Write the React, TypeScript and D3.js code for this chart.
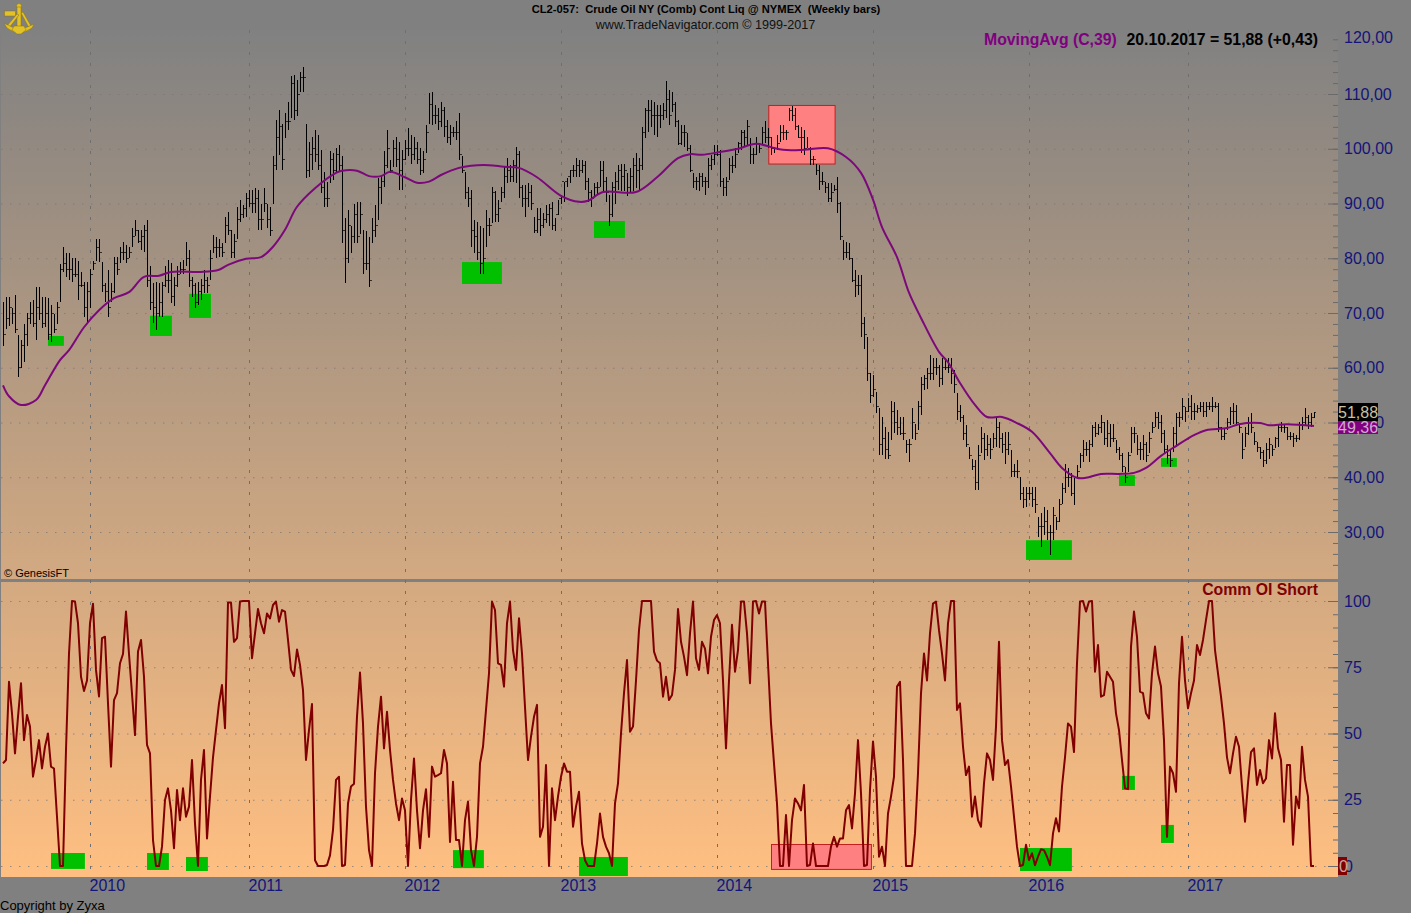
import React, { useEffect, useRef } from 'react';
import * as d3 from 'd3';

// Crude Oil weekly bars, one entry per week from mid 2009 to 20.10.2017
const highs = [
  72, 73, 73, 71, 73.3, 66, 65, 68, 70, 72,
  72.4, 74.8, 74.8, 73, 73, 72.7, 71.4, 69.9, 72, 79,
  82, 81, 81, 80, 80, 79.5, 77.5, 75.7, 75.7, 78,
  79.5, 83.6, 83.6, 79.4, 75.4, 77.8, 75.4, 80.3, 80.3, 82.1,
  83, 82.4, 82.1, 85.5, 87, 85.2, 85.2, 86, 87, 78.5,
  75.4, 75.7, 75.4, 75.7, 78.5, 79.7, 79.1, 76.6, 78.5, 79.4,
  79.7, 83, 81.5, 76.6, 75.4, 75.7, 76.3, 77.8, 76.6, 81.5,
  84.2, 83.9, 83.6, 82.7, 87.6, 88.5, 85.2, 84.5, 89.4, 90.6,
  89.7, 91.9, 92.5, 92.5, 92.8, 92.5, 90, 92.8, 90, 89.4,
  98.6, 105.3, 107.1, 104.6, 106.5, 108.6, 113.2, 113.5, 112.6, 114.1,
  114.9, 104.6, 101.3, 102.2, 103.4, 102.5, 99.8, 95.8, 94, 99.5,
  99.2, 100.1, 100.7, 98.6, 87.3, 88.8, 85.8, 90, 90.3, 90.3,
  85.2, 84.9, 83.9, 87.3, 89.7, 94.6, 95.2, 99.5, 103.4, 97.9,
  101.6, 102.2, 101.3, 99.8, 101.6, 103.7, 102.5, 102.2, 101.3, 100.1,
  99.5, 104.3, 110.1, 110.4, 108, 107.4, 108.6, 107.7, 105.3, 104.3,
  104, 105, 106.5, 98.6, 95.8, 93.1, 92.5, 87, 86.7, 85.8,
  85.5, 88.8, 87.3, 93.1, 92.2, 90.6, 93.1, 96.7, 98.3, 97,
  98, 100.4, 99.5, 93.4, 93.4, 93.7, 93.4, 87.6, 89.1, 89.1,
  88.2, 89.7, 90, 90.3, 87.3, 90.6, 91.6, 94, 94.6, 96.1,
  97, 98.3, 98, 98, 97.7, 94.6, 92.5, 93.7, 94, 97.7,
  97.7, 94.9, 91.6, 94, 95.8, 97, 97.3, 97.3, 95.5, 96.4,
  98.3, 99.2, 98.3, 104, 107.4, 108.9, 108.9, 108.6, 108, 108,
  108.3, 112.3, 110.7, 110.4, 108.6, 105.3, 104.4, 104.4, 102.8, 100.7,
  95.5, 94.9, 95.5, 95.5, 94.9, 98.3, 98.9, 100.7, 100.7, 99.8,
  94.6, 94.9, 98.3, 98.6, 100.1, 101.3, 103.4, 103.4, 105.3, 101.9,
  100.1, 102.2, 100.7, 104, 105, 103.7, 102.2, 100.4, 102.5, 104.4,
  104.4, 103.4, 107.4, 107.8, 107.4, 104.4, 104, 103.4, 102.2, 100.4,
  98.6, 97.3, 97, 95.8, 94, 93.7, 93.7, 93.4, 94.9, 90.3,
  83.3, 83, 82.7, 80, 77.9, 77, 77, 69.3, 65.7, 59,
  58.7, 55.6, 52.6, 51, 49.2, 48.3, 54, 53.8, 52.3, 51,
  51, 46.8, 47, 52.6, 49.8, 54, 58.4, 58.7, 59.9, 62.3,
  61.7, 61.7, 60.5, 61.7, 61.7, 61.7, 61.7, 59.6, 55.3, 53.2,
  51.4, 49.5, 45.6, 43.4, 43.1, 45.9, 49.2, 48, 47.7, 47.1,
  48, 51, 50.1, 48, 48.3, 48.3, 45, 42.5, 43.1, 40.1,
  38.3, 38.3, 38.3, 38.3, 38.3, 32.8, 33.4, 34.6, 34, 31.3,
  34.6, 32.8, 36.1, 38.9, 42.5, 41.6, 40.7, 39.8, 42.2, 44.4,
  46.8, 46.5, 46.8, 49.5, 50.1, 49.8, 51.4, 50.1, 50.4, 49.8,
  49.8, 46.8, 45.6, 44.4, 41.9, 44.7, 49.2, 49.2, 47.7, 46.5,
  47.7, 46.5, 48.3, 50.1, 52, 52, 51.4, 48.6, 45.9, 45,
  49.2, 51.7, 52, 54.4, 52.9, 54.4, 55, 53.5, 53.2, 53.8,
  53.8, 53.8, 53.8, 54.7, 53.8, 53.5, 49.2, 48.9, 50.8, 52.9,
  53.5, 53.2, 49.8, 48, 49.2, 51, 51.7, 48.3, 46.5, 45.6,
  45, 46.2, 47.1, 45.9, 47.4, 49.5, 50.1, 49.8, 49.2, 48.3,
  48, 47.7, 50.1, 51, 52.6, 51.4, 51.7, 52,
];

const lows = [
  64, 67, 67.7, 68, 66.3, 58.3, 60, 61, 64, 68,
  67.5, 65, 68.7, 67.3, 67.5, 65, 64.7, 66.3, 68, 72,
  77.5, 76.6, 76, 75.7, 76.6, 72.4, 74.8, 69.3, 68.4, 71,
  77.8, 79.5, 79.4, 73.9, 72.1, 69.3, 72, 73.6, 77, 79.1,
  79.7, 79.1, 80, 82.1, 84, 82.7, 81.5, 81.2, 74.8, 70.5,
  68.1, 66.9, 69.3, 69.3, 74.8, 73.6, 71.8, 71.2, 74.8, 77.2,
  77.2, 78.5, 74.8, 73, 70.9, 71.5, 72.4, 73.6, 73.6, 76,
  80.9, 80, 80.3, 80.3, 82.7, 84.2, 80, 80, 83.6, 86.7,
  87.3, 87.6, 89.4, 88.2, 88.2, 85.2, 85.2, 88.5, 85.5, 84,
  90, 96.1, 98.9, 96.1, 101.9, 103.4, 105.6, 105.3, 105.9, 110.4,
  110.4, 94.6, 94.9, 96.1, 97.6, 96.1, 91.9, 89.4, 89.4, 93.7,
  94.3, 95.5, 95.8, 82.7, 75.4, 79.1, 80.9, 82.7, 82.7, 84.5,
  77.2, 77.8, 74.8, 82.7, 83.9, 87, 90, 93.1, 96.4, 95.5,
  96.7, 96.7, 92.5, 92.5, 97.9, 98.6, 97.3, 97.9, 97.3, 95.2,
  95.5, 99.2, 104.6, 104.3, 104.6, 103.4, 104, 102.2, 101, 100.7,
  102.2, 101.6, 98, 95.5, 90.9, 89.4, 82.1, 80.9, 79.7, 77.2,
  77.2, 82.1, 84, 86.4, 86.7, 86.7, 90.3, 91, 93.7, 94,
  94, 93.7, 91, 89.4, 87.6, 89.4, 88.8, 84.6, 84.6, 84,
  85.5, 86.4, 85.8, 85.2, 84.9, 87.9, 90, 90.3, 93.1, 93.7,
  94.9, 94.9, 94.9, 95.5, 92.5, 90.3, 89.4, 91.3, 91.6, 93.1,
  92.2, 90.3, 85.8, 87.6, 90, 92.5, 92.2, 92.2, 91.3, 91.9,
  92.2, 92.8, 92.2, 96.1, 101.9, 103.1, 104, 102.5, 102.2, 103.7,
  105.3, 105.6, 104.4, 106.8, 104, 100.7, 100.7, 100.4, 99.5, 95.8,
  92.8, 92.5, 92.2, 93.1, 91.6, 92.8, 96.1, 97, 98.6, 93.1,
  91.3, 91.3, 94.3, 95.5, 96.4, 99.2, 99.8, 100.4, 100.7, 97.3,
  97.3, 98.9, 99.2, 100.7, 101, 100.1, 98.9, 99.2, 99.8, 101.3,
  101.6, 101.6, 105, 105, 103.4, 101.9, 99.2, 98.9, 100.1, 97,
  97, 95.2, 92.5, 93.4, 91.9, 90.3, 90.3, 92.2, 88.2, 83.3,
  79.7, 80, 79.7, 75.7, 73, 73.3, 65.7, 63.5, 57.5, 53.5,
  54.7, 51.7, 44, 44, 43.4, 43.4, 46.8, 48, 47.7, 47.7,
  46.8, 44.4, 42.7, 47, 46.8, 48.6, 51.4, 55.9, 56.2, 57.8,
  57.8, 58.7, 56.5, 56.8, 59.6, 59, 57.1, 55.3, 50.4, 50.1,
  46.8, 45.6, 43.4, 41.3, 37.7, 37.7, 44.4, 43.1, 43.8, 43.4,
  45.3, 45.6, 45.3, 44.4, 42.5, 44, 40.1, 40.1, 39.8, 35.8,
  34.3, 34.6, 35.8, 34.6, 33.4, 29.1, 27.3, 29.4, 28.5, 25.8,
  28.5, 30.4, 31.9, 35.2, 37.1, 38.3, 36.5, 34.9, 39.8, 41.6,
  42.8, 43.8, 42.8, 45.6, 47.4, 47.7, 48, 45.9, 45.6, 45.6,
  46.5, 44.4, 43.1, 41, 38.9, 41, 44.4, 46.2, 44, 43.1,
  43.1, 42.8, 44.4, 48, 49.2, 48.9, 46.2, 44.4, 42.5, 41.9,
  44.7, 45.6, 49.2, 50.4, 50.1, 52, 50.4, 50.4, 51.7, 52,
  51, 51, 52.3, 52, 52.6, 48.3, 46.8, 46.8, 48.6, 49.5,
  49.8, 49.5, 48, 43.4, 45.6, 47.7, 48, 45.9, 44.7, 43.4,
  41.9, 42.5, 43.4, 43.8, 45.3, 45.6, 48.3, 48, 46.8, 46.8,
  45.6, 46.5, 46.8, 48.6, 49.5, 48.9, 49.2, 50.8,
];

const closes = [
  66, 69, 71, 70, 67, 60, 64, 66, 69, 70,
  68, 71, 70, 68, 70, 66, 70, 67, 71, 78,
  79, 78, 78, 77, 77, 75, 75, 71, 74, 77,
  79, 82, 81, 75, 74, 71, 74, 79, 78, 81,
  81, 80, 81, 84, 85, 83, 84, 85, 76, 72,
  71, 70, 72, 75, 76, 76, 73, 75, 77, 78,
  78, 80, 76, 75, 72, 74, 75, 76, 75, 80,
  82, 82, 82, 81, 86, 85, 81, 83, 87, 88,
  89, 91, 90, 90, 91, 87, 87, 90, 87, 85,
  97, 102, 104, 98, 105, 105, 112, 107, 110, 113,
  113, 96, 99, 100, 99, 97, 93, 91, 91, 98,
  96, 99, 97, 85, 80, 86, 84, 88, 84, 88,
  79, 79, 76, 85, 86, 93, 94, 97, 100, 96,
  100, 98, 96, 98, 100, 100, 99, 100, 98, 96,
  98, 103, 108, 106, 106, 105, 107, 104, 102, 103,
  103, 103, 99, 96, 92, 91, 85, 84, 81, 79,
  80, 86, 86, 92, 88, 89, 92, 95, 96, 95,
  97, 99, 93, 91, 91, 92, 90, 85, 87, 86,
  87, 88, 89, 86, 88, 91, 94, 94, 95, 96,
  96, 97, 96, 97, 94, 92, 91, 93, 93, 96,
  94, 92, 88, 93, 94, 96, 95, 96, 93, 95,
  97, 96, 97, 103, 107, 107, 106, 106, 106, 106,
  107, 109, 106, 108, 105, 101, 103, 103, 100, 96,
  94, 94, 95, 94, 94, 97, 98, 99, 99, 94,
  93, 94, 97, 97, 99, 101, 103, 102, 104, 99,
  99, 101, 100, 103, 102, 102, 100, 100, 101, 103,
  103, 103, 107, 106, 104, 102, 102, 100, 100, 98,
  98, 96, 94, 94, 93, 91, 92, 92.5, 90, 84,
  81, 81, 80, 76, 75, 75, 68, 66, 59, 55,
  56, 53, 46, 47, 45, 44, 52, 50, 49, 48,
  48, 46, 46, 50, 48, 53, 57, 58, 59, 59,
  60, 60, 58, 60, 60, 60, 59, 57, 52, 51,
  48, 46, 44, 42, 39, 44, 47, 45, 46, 45,
  47, 49, 47, 46, 45, 46, 41, 41, 41, 37,
  36, 37, 37, 36, 35, 31, 31, 32, 30, 30,
  33, 32, 35, 38, 40, 40, 37, 40, 41, 44,
  45, 45, 46, 49, 48, 49, 50, 47, 48, 47,
  47, 45, 44, 42, 40, 44, 48, 48, 45, 45,
  46, 44, 47, 49, 51, 50, 48, 45, 44, 43,
  48, 51, 51, 53, 52, 53, 52, 52, 52.5, 53,
  52, 53, 53, 53, 53, 49, 47.5, 48, 50, 52,
  52, 50, 49, 45, 48, 50, 49, 46.5, 45.5, 44.5,
  43, 45, 46, 45, 47, 49, 49, 49, 47.5, 47.5,
  47, 47, 49.5, 50, 51, 50, 51, 51.88,
];

// MovingAvg (C,39), read at these weeks
const maWeeks = [
  0, 2, 6, 11, 14, 19, 22, 27, 32, 37, 42, 47, 52, 56, 66, 72, 75, 81, 86, 90, 94, 98, 104, 111, 113, 118, 122, 126, 129,
  134, 138, 142, 146, 152, 156, 162, 167, 172, 178, 186, 192, 195, 200, 211, 218, 225, 229, 233, 239, 245, 251, 256, 260,
  267, 275, 281, 286, 290, 293, 298, 302, 306, 312, 315, 319, 324, 328, 333, 338, 343, 349, 353, 358, 361, 366, 372, 377,
  381, 386, 391, 397, 401, 408, 412, 419, 422, 428, 437,
];
const maValues = [
  56.8, 54.8, 53.2, 54.1, 56.8, 61.4, 63.2, 67.4, 70.5, 72.7, 73.8, 76.6, 76.8, 77.5, 77.5, 77.9, 78.8, 79.9, 80.2, 82.1, 85.2, 89.4, 92.8, 95.6, 96, 96, 95, 95, 95.8,
  94.8, 93.8, 94, 95.2, 96.5, 96.9, 97, 96.7, 96.5, 94.8, 91.4, 90.3, 90.5, 92.1, 92.1, 94.8, 98.3, 99, 98.9, 99.4, 100, 100.9, 100.3, 99.8,
  99.8, 100.1, 98.5, 95.6, 90.7, 85.7, 80.2, 73.7, 69.1, 62.9, 61, 57.2, 53.2, 51, 51, 49.9, 48.3, 44.4, 41.7, 39.9, 39.9, 40.6, 40.6, 40.8,
  41.7, 43.9, 45.7, 47.7, 48.6, 49, 49.7, 49.9, 49.5, 49.7, 49.36,
];

// Comm OI Short, one entry per week
const commShort = [
  38.7, 40, 69.5, 57.6, 42.5, 56.3, 69, 47.5, 57, 52.6,
  33.7, 40, 47.5, 36.8, 45, 50, 37.5, 36.8, 18.6, 0,
  0, 43.8, 80.2, 100, 99.8, 91.6, 71.4, 66, 70, 91.6,
  99, 74, 64, 86, 86.5, 61.4, 37.5, 62.6, 65.2, 76.5,
  80, 96, 80, 65, 49.4, 80.9, 85.3, 71.4, 45.7, 42.5,
  9.8, 0, 0, 7.3, 24.9, 29.3, 21, 6.7, 28.7, 17.3,
  29.3, 18.6, 22.4, 40, 16, 0, 32.5, 43.8, 10.4, 26.2,
  41, 51.3, 61.4, 68.3, 52, 99.4, 99.4, 84.6, 86, 99.8,
  100, 100, 100, 78.4, 87.8, 97, 91.6, 87.8, 95.3, 93.4,
  98.5, 99.8, 92.2, 96.6, 96, 85.3, 74, 71.7, 81.7, 75.9,
  66.4, 40, 51.3, 61.1, 2.2, 0, 0, 0, 0.4, 4,
  13.6, 32.5, 33.7, 0, 0.4, 23.6, 30, 31, 56.4, 73,
  53.8, 22.4, 6, 0, 35, 52.6, 63.9, 44.4, 58.2, 43.8,
  32.5, 23.6, 17.3, 25.5, 21, 0, 24.9, 40.6, 21, 6.7,
  21, 29, 11, 37.5, 33.7, 34.3, 35, 43.8, 38.7, 9.1,
  31.8, 9.8, 9.8, 0, 17.3, 24.3, 6, 0, 11, 38.7,
  45, 58.9, 72.7, 99.8, 96.6, 76.5, 75.9, 67.7, 91.6, 99.8,
  81.5, 74, 93.5, 80.2, 60, 40, 48.8, 56.3, 60.8, 11,
  14.8, 38.1, 0, 29.3, 17.3, 26.2, 33.7, 38.7, 35.6, 35.6,
  14.8, 22.4, 28, 8.5, 2.2, 0, 0, 0, 8.5, 19.8,
  11, 7.3, 4.8, 0, 23.6, 31.2, 50, 65.2, 77.7, 50.7,
  52.6, 70, 89, 100, 100, 100, 100, 80.9, 77.5, 76.5,
  63.9, 71.4, 62.6, 64.5, 74, 97, 84.6, 79, 72, 87.8,
  99.8, 78.4, 74, 84.6, 82, 72.7, 86.5, 92.8, 94.7, 91.6,
  70, 44.4, 70, 91, 73.3, 81.5, 99.8, 99.8, 87.8, 69,
  99.8, 100, 95.3, 99.8, 99.8, 76.5, 53.8, 38.7, 23.6, 0,
  0, 19.2, 0, 17.3, 25.5, 23.6, 21, 30.6, 0, 0.4,
  8.5, 0, 0, 0, 0, 0, 7.3, 11, 7.3, 10.4,
  10.4, 21, 23, 14.2, 27.4, 47.5, 27.4, 0, 0.4, 28.7,
  47, 33.7, 3.5, 7.3, 0, 19.8, 26.2, 33.7, 67.7, 69.5,
  40, 0, 0, 0, 12.3, 35, 65.2, 80.2, 70, 87.8,
  99, 99.8, 89, 80.2, 70, 91.6, 100, 100, 58.9, 61.4,
  45, 34.3, 37.5, 18.6, 26.2, 17.3, 14.8, 31.2, 42.5, 40,
  32.5, 52.6, 84.6, 47.5, 38.1, 40, 30, 18.6, 7.3, 0,
  0.4, 8, 2.2, 4.8, 0.3, 3.5, 6.3, 6, 3.5, 0.3,
  12.3, 18, 13, 30, 41, 53.8, 52.6, 43, 76.5, 99.8,
  100, 96, 99.8, 100, 73.3, 83.4, 63.9, 64.5, 73.3, 71.4,
  69.5, 57.6, 51.3, 40, 29.3, 29, 82.8, 96, 86.5, 65.8,
  65.2, 57.6, 55.7, 72.7, 82.8, 72.7, 67.7, 47.5, 11, 37.5,
  35, 28, 69, 86.5, 70, 59.5, 65.2, 70, 83.4, 79.6,
  85.3, 92.8, 100, 100, 81.5, 72.7, 63.9, 53.8, 41, 35,
  42.5, 48.8, 45, 30, 16.7, 31.2, 43, 44.4, 30.6, 36.2,
  31.2, 33, 47.5, 40.6, 57.6, 44.4, 40, 16.7, 38.1, 38.1,
  8, 26.2, 21.8, 45, 32.5, 26.2, 0, 0,
];

const yearLabels = ['2010', '2011', '2012', '2013', '2014', '2015', '2016', '2017'];
const yearWeeks = [29, 82, 134, 186, 238, 290, 342, 395];

const priceTicks = [30, 40, 50, 60, 70, 80, 90, 100, 110, 120];
const priceMinorTicks = d3.range(24, 122, 2);
const commTicks = [0, 25, 50, 75, 100];
const commMinorTicks = d3.range(0, 105, 5);

// [first week, last week, top value, bottom value]
const priceGreenBoxes = [
  [15, 20.3, 65.8, 64], [49, 56.3, 69.5, 65.8], [62, 69.3, 73.5, 69.1], [153, 166.3, 79.3, 75.3],
  [197, 207.3, 86.8, 83.7], [341, 356.3, 28.5, 24.9], [372, 377.3, 40.4, 38.4], [386, 391.3, 43.5, 41.9],
];
const priceRedBox = [255.1, 277.2, 108, 97.3];
const commGreenBoxes = [
  [16, 27.3, 4.9, -1.1], [48, 55.3, 4.9, -1.5], [61, 68.3, 3.4, -1.9], [150, 160.3, 6, -0.8],
  [192, 208.3, 3.4, -3.8], [339, 356.3, 6.8, -1.9], [373, 377.3, 34, 28.7], [386, 390.3, 15.5, 8.7],
];
const commRedBox = [256, 289.3, 8.3, -1.1];

const W = 1411;
const H = 913;
const SANS = '"Liberation Sans", Arial, sans-serif';
const NAVY = '#14147a';

export default function App() {
    const svgRef = useRef<SVGSVGElement>(null);

    useEffect(() => {
        if (!svgRef.current) return;
        const svg = d3.select(svgRef.current);
        svg.selectAll('*').remove();

        const plotRight = 1338;
        const x = d3.scaleLinear().domain([0, 437]).range([3, 1314]);
        const yPrice = d3.scaleLinear().domain([30, 110]).range([532, 94]);
        const yComm = d3.scaleLinear().domain([0, 100]).range([866, 601]);
        const comma = d3.formatLocale({ decimal: ',', thousands: '.', grouping: [3], currency: ['', ''] }).format('.2f');

        const defs = svg.append('defs');
        const grad = defs.append('linearGradient').attr('id', 'bg')
            .attr('gradientUnits', 'userSpaceOnUse')
            .attr('x1', 0).attr('x2', 0).attr('y1', 30).attr('y2', 877);
        grad.append('stop').attr('offset', 0).attr('stop-color', '#818181');
        grad.append('stop').attr('offset', 1).attr('stop-color', '#ffbf81');

        svg.append('rect').attr('width', W).attr('height', H).attr('fill', '#808080');
        svg.append('rect').attr('x', 1).attr('y', 30).attr('width', plotRight - 1).attr('height', 847).attr('fill', 'url(#bg)');
        svg.append('rect').attr('x', 0).attr('y', 579).attr('width', plotRight).attr('height', 3).attr('fill', '#808080');

        // grid
        const grid = svg.append('g').attr('fill', 'none');
        grid.selectAll('.v').data(yearWeeks).join('line')
            .attr('x1', d => x(d) + 0.5).attr('x2', d => x(d) + 0.5)
            .attr('y1', 30).attr('y2', 877)
            .attr('stroke', '#6f6f6f').attr('stroke-dasharray', '3 8');
        grid.selectAll('.hp').data(priceTicks.slice(0, -1)).join('line')
            .attr('x1', 1).attr('x2', 1328)
            .attr('y1', d => yPrice(d) + 0.5).attr('y2', d => yPrice(d) + 0.5)
            .attr('stroke', '#777').attr('stroke-opacity', 0.75).attr('stroke-dasharray', '1.5 7.5');
        grid.selectAll('.hc').data(commTicks).join('line')
            .attr('x1', 1).attr('x2', 1328)
            .attr('y1', d => yComm(d) + 0.5).attr('y2', d => yComm(d) + 0.5)
            .attr('stroke', '#777').attr('stroke-opacity', 0.75).attr('stroke-dasharray', '1.5 7.5');

        // marked zones, under the series
        const boxes = svg.append('g');
        const drawBoxes = (rows: number[][], y: d3.ScaleLinear<number, number>) => {
            boxes.append('g').selectAll('rect').data(rows).join('rect')
                .attr('x', d => x(d[0])).attr('width', d => x(d[1]) - x(d[0]))
                .attr('y', d => y(d[2])).attr('height', d => y(d[3]) - y(d[2]))
                .attr('fill', '#00c000');
        };
        const drawRed = (d: number[], y: d3.ScaleLinear<number, number>) => {
            boxes.append('rect')
                .attr('x', x(d[0]) + 0.5).attr('width', x(d[1]) - x(d[0]))
                .attr('y', y(d[2]) + 0.5).attr('height', y(d[3]) - y(d[2]))
                .attr('fill', '#ff8080').attr('stroke', '#c02020');
        };
        drawBoxes(priceGreenBoxes, yPrice);
        drawBoxes(commGreenBoxes, yComm);
        drawRed(priceRedBox, yPrice);
        drawRed(commRedBox, yComm);

        // price bars
        const bars = svg.append('g').attr('stroke', '#000').attr('shape-rendering', 'crispEdges');
        const weeks = d3.range(highs.length);
        bars.selectAll('.hl').data(weeks).join('line')
            .attr('x1', i => x(i) + 0.5).attr('x2', i => x(i) + 0.5)
            .attr('y1', i => yPrice(highs[i])).attr('y2', i => yPrice(lows[i]));
        bars.selectAll('.o').data(weeks.slice(1)).join('line')
            .attr('stroke-opacity', 0.7)
            .attr('x1', i => x(i) - 1).attr('x2', i => x(i))
            .attr('y1', i => yPrice(closes[i - 1])).attr('y2', i => yPrice(closes[i - 1]));
        bars.selectAll('.c').data(weeks).join('line')
            .attr('stroke-opacity', 0.7)
            .attr('x1', i => x(i) + 1).attr('x2', i => x(i) + 2)
            .attr('y1', i => yPrice(closes[i])).attr('y2', i => yPrice(closes[i]));

        // moving average
        const maLine = d3.line<number>()
            .x((_, i) => x(maWeeks[i]))
            .y(d => yPrice(d))
            .curve(d3.curveCatmullRom);
        svg.append('path').datum(maValues)
            .attr('d', maLine).attr('fill', 'none')
            .attr('stroke', '#7c087c').attr('stroke-width', 2);

        // comm oi short
        const commLine = d3.line<number>().x((_, i) => x(i)).y(d => yComm(d));
        svg.append('path').datum(commShort)
            .attr('d', commLine).attr('fill', 'none')
            .attr('stroke', '#800000').attr('stroke-width', 2).attr('stroke-linejoin', 'round');

        // axes
        const tickColor = '#6a6a6a';
        const ticks = (y: d3.ScaleLinear<number, number>, major: number[], minor: number[]) => {
            const a = svg.append('g').attr('transform', `translate(${plotRight},0)`).attr('color', tickColor)
                .call(d3.axisLeft(y).tickValues(minor).tickSize(5).tickFormat(() => ''));
            a.select('.domain').remove();
            const b = svg.append('g').attr('transform', `translate(${plotRight},0)`).attr('color', tickColor)
                .call(d3.axisLeft(y).tickValues(major).tickSize(10).tickFormat(() => ''));
            b.select('.domain').remove();
        };
        ticks(yPrice, priceTicks.slice(0, -1), priceMinorTicks);
        ticks(yComm, commTicks, commMinorTicks);

        const priceAxis = svg.append('g')
            .attr('transform', `translate(${plotRight},0)`)
            .attr('color', NAVY)
            .call(d3.axisRight(yPrice).tickValues(priceTicks).tickSize(0).tickPadding(6).tickFormat(d => comma(d as number)));
        priceAxis.select('.domain').remove();
        priceAxis.selectAll('text').attr('font-family', SANS).attr('font-size', 16);
        priceAxis.selectAll<SVGTextElement, number>('text').filter(d => d === 120).attr('y', -2);

        const commAxis = svg.append('g')
            .attr('transform', `translate(${plotRight},0)`)
            .attr('color', NAVY)
            .call(d3.axisRight(yComm).tickValues(commTicks).tickSize(0).tickPadding(6));
        commAxis.select('.domain').remove();
        commAxis.selectAll('text').attr('font-family', SANS).attr('font-size', 16);

        const yearAxis = svg.append('g')
            .attr('transform', 'translate(-1,877)')
            .attr('color', NAVY)
            .call(d3.axisBottom(x).tickValues(yearWeeks).tickSize(0).tickPadding(3).tickFormat((_, i) => yearLabels[i]));
        yearAxis.select('.domain').remove();
        yearAxis.selectAll('text').attr('font-family', SANS).attr('font-size', 16).attr('text-anchor', 'start');

        // last value badges
        const label = (px: number, py: number, s: string, size: number, fill: string, weight = 'normal', anchor = 'start') =>
            svg.append('text').attr('x', px).attr('y', py).attr('font-family', SANS).attr('font-size', size)
                .attr('font-weight', weight).attr('text-anchor', anchor).attr('fill', fill).text(s);

        svg.append('rect').attr('x', plotRight).attr('y', 403).attr('width', 40).attr('height', 18).attr('fill', '#000');
        svg.append('rect').attr('x', plotRight).attr('y', 421).attr('width', 40).attr('height', 13).attr('fill', '#800080');
        label(plotRight, 418, comma(closes[closes.length - 1]), 16, '#c8c0a0');
        label(plotRight, 433, comma(maValues[maValues.length - 1]), 16, '#d0a8d0');
        svg.append('rect').attr('x', plotRight).attr('y', 857).attr('width', 9).attr('height', 18).attr('fill', '#800000');
        label(1339, 872, '0', 16, '#c8a8a0');

        // titles
        label(706, 13, 'CL2-057:\u00a0\u00a0Crude Oil NY (Comb) Cont Liq @ NYMEX\u00a0\u00a0(Weekly bars)', 11.2, '#000', 'bold', 'middle');
        label(705.5, 29, 'www.TradeNavigator.com © 1999-2017', 12.6, '#111', 'normal', 'middle');
        label(984, 45, 'MovingAvg (C,39)', 15.8, '#800080', 'bold');
        label(1318, 45, '20.10.2017 = 51,88 (+0,43)', 15.8, '#000', 'bold', 'end');
        label(1318, 595, 'Comm OI Short', 15.8, '#800000', 'bold', 'end');
        label(4, 577, '© GenesisFT', 11, '#000');
        label(0, 910, 'Copyright by Zyxa', 13, '#000');

        // sextant logo
        const logo = svg.append('g').attr('fill', '#e2c226').attr('stroke', '#8a7010').attr('stroke-width', 0.5);
        logo.append('circle').attr('cx', 19).attr('cy', 6).attr('r', 2.5);
        logo.append('rect').attr('x', 17).attr('y', 7).attr('width', 4).attr('height', 22);
        logo.append('rect').attr('x', 4.5).attr('y', 11).attr('width', 11).attr('height', 5);
        logo.append('path').attr('d', 'M17 14 l2 1 l-10 13 l-2.5 -1.5 z');
        logo.append('path').attr('d', 'M21 13 l2 -1 l8 14 l-2.5 1 z');
        logo.append('path').attr('d', 'M4 23 Q19 33 34 24 L32 28 Q19 37 7 28 z');
        logo.append('path').attr('d', 'M14 26 h10 l2 4 l-5 4 h-4 l-5 -4 z');
    }, []);

    return (
        <div style={{ position: 'absolute', left: 0, top: 0, width: W, height: H, overflow: 'hidden' }}>
            <svg ref={svgRef} width={W} height={H} style={{ display: 'block' }} />
        </div>
    );
}
